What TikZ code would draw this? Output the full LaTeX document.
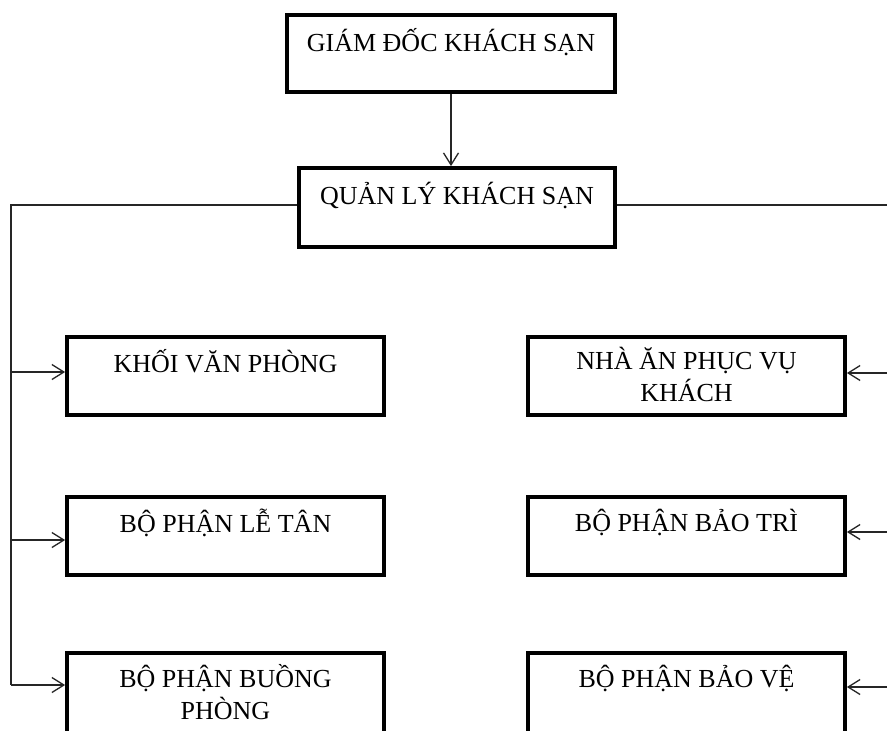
\documentclass[tikz,border=0pt]{standalone}
\usepackage{fontspec}
\setmainfont{Liberation Serif}
\usetikzlibrary{arrows.meta}
\tikzset{
  box/.style={draw=black, line width=3.8pt, rectangle, minimum width=317pt, minimum height=78pt, inner sep=0pt, fill=white},
  lbl/.style={font=\fontsize{26}{30}\selectfont, align=center, inner sep=0pt, anchor=north, text=black},
  conn/.style={draw=black!85, line width=1.3pt},
  arr/.style={conn, -{Straight Barb[length=12pt,width=15pt,line width=1.3pt]}},
}
\begin{document}
\begin{tikzpicture}[x=1pt,y=-1pt]
\clip (0,0) rectangle (887,731);
\fill[white] (0,0) rectangle (887,731);
% boxes
\node[box, minimum width=328pt, minimum height=77pt] (gd) at (451,53.5) {};
\node[box, minimum width=316pt, minimum height=79pt] (ql) at (457,207.5) {};
\node[box] (kvp) at (225.5,376) {};
\node[box] (bplt) at (225.5,536) {};
\node[box, minimum height=90pt] (bpbp) at (225.5,698) {};
\node[box] (nap) at (686.5,376) {};
\node[box] (bpbt) at (686.5,536) {};
\node[box, minimum height=90pt] (bpbv) at (686.5,698) {};
% labels
\node[lbl] (gdT) at ([yshift=-15pt]gd.north) {\strut GIÁM ĐỐC KHÁCH SẠN};
\node[lbl] (qlT) at ([yshift=-16pt]ql.north) {\strut QUẢN LÝ KHÁCH SẠN};
\node[lbl] (kvpT) at ([yshift=-14pt]kvp.north) {\strut KHỐI VĂN PHÒNG};
\node[lbl] (bpltT) at ([yshift=-14pt]bplt.north) {\strut BỘ PHẬN LỄ TÂN};
\node[lbl] (bpbpT) at ([yshift=-13pt]bpbp.north) {\strut BỘ PHẬN BUỒNG\\\strut PHÒNG};
\node[lbl] (napT) at ([yshift=-12pt]nap.north) {\strut NHÀ ĂN PHỤC VỤ\\\strut KHÁCH};
\node[lbl] (bpbtT) at ([yshift=-14pt]bpbt.north) {\strut BỘ PHẬN BẢO TRÌ};
\node[lbl] (bpbvT) at ([yshift=-14pt]bpbv.north) {\strut BỘ PHẬN BẢO VỆ};
% connectors
\draw[arr] (gd.south) -- (gd.south |- ql.north);
\coordinate (lt) at (11,205);
\coordinate (l1) at (11,372);
\coordinate (l2) at (11,540);
\coordinate (l3) at (11,685);
\coordinate (rt) at (890,205);
\coordinate (r1) at (890,373);
\coordinate (r2) at (890,532);
\coordinate (r3) at (890,687);
\draw[conn] (ql.west |- lt) -- (lt) -- (l3);
\draw[conn] (ql.east |- rt) -- (rt);
\draw[arr] (l1) -- (l1 -| kvp.west);
\draw[arr] (l2) -- (l2 -| bplt.west);
\draw[arr] (l3) -- (l3 -| bpbp.west);
\draw[arr] (r1) -- (r1 -| nap.east);
\draw[arr] (r2) -- (r2 -| bpbt.east);
\draw[arr] (r3) -- (r3 -| bpbv.east);
\end{tikzpicture}
\end{document}
